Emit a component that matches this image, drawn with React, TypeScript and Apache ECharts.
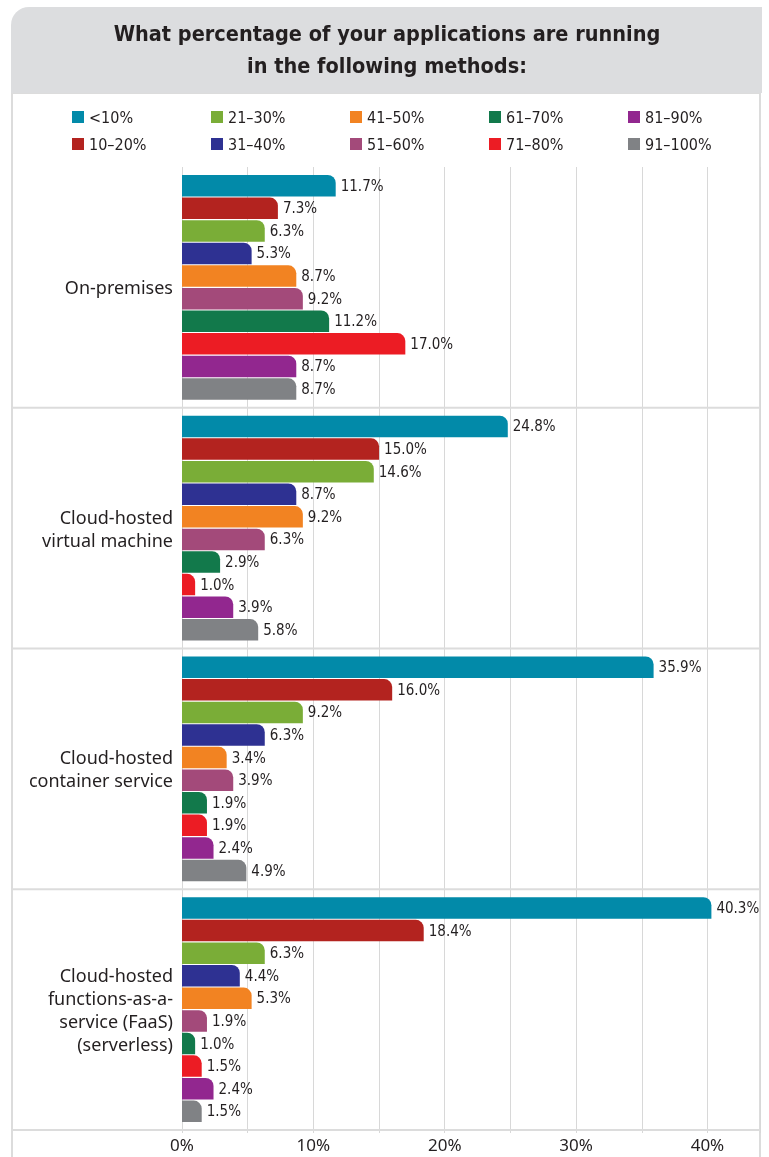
import React, { useEffect, useRef } from "react";
import * as echarts from "echarts";

const categories = [
  "On-premises",
  "Cloud-hosted\nvirtual machine",
  "Cloud-hosted\ncontainer service",
  "Cloud-hosted\nfunctions-as-a-\nservice (FaaS)\n(serverless)",
];

const seriesNames = ["<10%", "10–20%", "21–30%", "31–40%", "41–50%", "51–60%", "61–70%", "71–80%", "81–90%", "91–100%"];
const seriesColors = ["#028aa9", "#b3231f", "#7aad37", "#2e3192", "#f28322", "#a34a7a", "#12794b", "#ec1c24", "#92278f", "#808285"];

const under10 = [11.7, 24.8, 35.9, 40.3];
const p10to20 = [7.3, 15.0, 16.0, 18.4];
const p21to30 = [6.3, 14.6, 9.2, 6.3];
const p31to40 = [5.3, 8.7, 6.3, 4.4];
const p41to50 = [8.7, 9.2, 3.4, 5.3];
const p51to60 = [9.2, 6.3, 3.9, 1.9];
const p61to70 = [11.2, 2.9, 1.9, 1.0];
const p71to80 = [17.0, 1.0, 1.9, 1.5];
const p81to90 = [8.7, 3.9, 2.4, 2.4];
const p91to100 = [8.7, 5.8, 4.9, 1.5];
const seriesValues = [under10, p10to20, p21to30, p31to40, p41to50, p51to60, p61to70, p71to80, p81to90, p91to100];

const xTickLabels = [0, 10, 20, 30, 40];

const titleText = "What percentage of your applications are running\nin the following methods:";

export default function App() {
  const ref = useRef<HTMLDivElement>(null);
  useEffect(() => {
    if (!ref.current) return;
    const chart = echarts.init(ref.current, undefined, { renderer: "svg" });
    const gridTop = 167;
    const gridBottomY = 1130;
    const gridLeft = 182;
    const gridRightX = 760;
    const narrow = "'DejaVu Sans Condensed', 'Liberation Sans Narrow', sans-serif";
    const regular = "'Noto Sans', 'Open Sans', sans-serif";

    const legends = [0, 1, 2, 3, 4].map((c) => ({
      orient: "vertical",
      left: 72 + c * 139,
      top: 109,
      itemWidth: 12,
      itemHeight: 12,
      itemGap: 11,
      icon: "rect",
      selectedMode: false,
      data: [seriesNames[c * 2], seriesNames[c * 2 + 1]],
      textStyle: { fontFamily: narrow, fontSize: 16, lineHeight: 16, color: "#231f20" },
      itemStyle: { borderWidth: 0 },
      padding: 0,
    }));

    const h = gridBottomY - gridTop;
    const sepLines = [1, 2, 3, 4].map((i) => ({
      type: "line",
      shape: { x1: 12, y1: gridTop + (h * i) / 4, x2: gridRightX, y2: gridTop + (h * i) / 4 },
      style: { stroke: "#dcdcdc", lineWidth: 2 },
      z: 1,
    }));

    chart.setOption({
      animation: false,
      title: {
        text: titleText,
        left: 387,
        top: 17,
        textAlign: "center",
        padding: 0,
        textStyle: { fontFamily: narrow, fontWeight: "bold", fontSize: 21.5, lineHeight: 32, color: "#231f20" },
      },
      legend: legends,
      graphic: [
        {
          type: "rect",
          shape: { x: 12, y: 93, width: 748, height: 1200 },
          style: { fill: "#ffffff", stroke: "#dcdcdc", lineWidth: 2 },
          z: -10,
          silent: true,
        },
        {
          type: "rect",
          shape: { x: 11, y: 7, width: 751, height: 86, r: [18, 0, 0, 0] },
          style: { fill: "#dcdddf" },
          z: -9,
          silent: true,
        },
        ...sepLines,
      ],
      grid: { left: gridLeft, top: gridTop, width: gridRightX - gridLeft, height: h, containLabel: false },
      xAxis: {
        type: "value",
        min: 0,
        max: 44,
        interval: 5,
        axisLine: { show: false },
        axisTick: { show: true, length: 3, lineStyle: { color: "#d8d8d8" } },
        splitLine: { show: true, lineStyle: { color: "#d8d8d8", width: 1 } },
        axisLabel: {
          fontFamily: regular,
          fontSize: 17,
          color: "#231f20",
          margin: 6,
          formatter: (v: number) => (xTickLabels.includes(v) ? v + "%" : ""),
        },
      },
      yAxis: {
        type: "category",
        data: categories,
        inverse: true,
        axisLine: { show: false },
        axisTick: { show: false },
        splitLine: { show: false },
        axisLabel: { fontFamily: regular, fontSize: 18, lineHeight: 23, color: "#231f20", margin: 9, align: "right" },
      },
      series: seriesNames.map((name, i) => ({
        name,
        type: "bar",
        data: seriesValues[i],
        barCategoryGap: "6.6%",
        barGap: "5%",
        itemStyle: { color: seriesColors[i], borderRadius: [0, 8, 0, 0] },
        label: {
          show: true,
          position: "right",
          distance: 5,
          fontFamily: narrow,
          fontSize: 15,
          color: "#231f20",
          formatter: (p: any) => Number(p.value).toFixed(1) + "%",
        },
        z: 2,
      })),
    });
    return () => chart.dispose();
  }, []);
  return <div ref={ref} style={{ position: "fixed", left: 0, top: 0, width: 769, height: 1157 }} />;
}
